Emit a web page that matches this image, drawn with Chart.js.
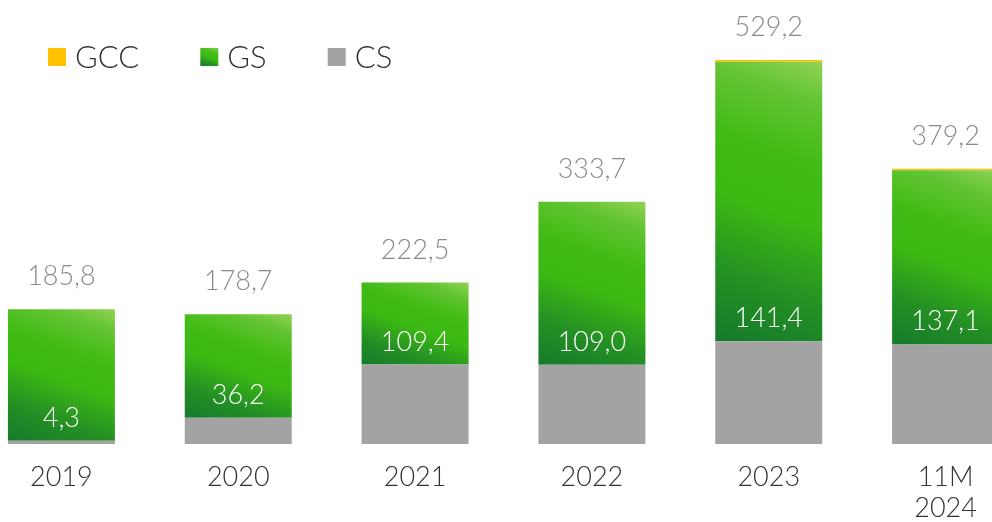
<!DOCTYPE html>
<html>
<head>
<meta charset="utf-8">
<script src="https://cdn.jsdelivr.net/npm/chart.js@4/dist/chart.umd.min.js"></script>
<style>
  html, body { margin: 0; padding: 0; background: #fff; overflow: hidden; width: 992px; height: 522px; }
  #wrap { position: absolute; left: -27px; top: 0; width: 1061px; height: 542px; }
</style>
</head>
<body>
<div id="wrap"><canvas id="chart"></canvas></div>
<script>
// Categories and values (bn)
const categories = ['2019', '2020', '2021', '2022', '2023', ['11M', '2024']];
const totals    = [185.8, 178.7, 222.5, 333.7, 529.2, 379.2];
const csValues  = [4.3, 36.2, 109.4, 109.0, 141.4, 137.1];
const gsValues  = [181.5, 142.5, 113.1, 224.7, 385.6, 240.1];
const gccValues = [0, 0, 0, 0, 2.2, 2.0];
const legendNames = ['GCC', 'GS', 'CS'];

const FONT = 'Lato';
const GREY = '#a3a3a3';
const ORANGE = '#ffc000';
const X_SHIFT = 27; // canvas is offset left by this much
const TILT = 20 * Math.PI / 180; // gradient direction, measured from vertical

const fmt = v => v.toFixed(1).replace('.', ',');

// Tilted vertical gradient: dark at bottom-left, light at top-right corner
function greenGradient(ctx, left, top, right, bottom) {
  const dx = Math.sin(TILT), dy = -Math.cos(TILT);
  const len = (right - left) * dx + (top - bottom) * dy;
  const g = ctx.createLinearGradient(left, bottom, left + dx * len, bottom + dy * len);
  g.addColorStop(0, '#157a2b');
  g.addColorStop(0.22, '#238f24');
  g.addColorStop(0.47, '#3cb913');
  g.addColorStop(0.66, '#41bb15');
  g.addColorStop(0.86, '#62c432');
  g.addColorStop(1, '#92d256');
  return g;
}

function gsFill(context) {
  const chart = context.chart;
  const { ctx, chartArea, scales } = chart;
  if (!chartArea || !scales.x || !scales.y) return '#3cb913';
  const i = context.dataIndex;
  const xs = scales.x;
  const half = (xs.width / categories.length) * 0.605 / 2;
  const cx = xs.getPixelForValue(i);
  const bottom = scales.y.getPixelForValue(csValues[i]);
  const top = scales.y.getPixelForValue(csValues[i] + gsValues[i]);
  return greenGradient(ctx, cx - half, top, cx + half, bottom);
}

const labelPlugin = {
  id: 'valueLabels',
  afterDatasetsDraw(chart) {
    const { ctx, scales } = chart;
    ctx.save();
    ctx.textAlign = 'center';
    ctx.textBaseline = 'alphabetic';
    categories.forEach((_, i) => {
      const cx = scales.x.getPixelForValue(i);
      // total above the stack
      const topY = scales.y.getPixelForValue(totals[i]);
      ctx.font = `300 27px ${FONT}`;
      ctx.fillStyle = '#8a8a8a';
      ctx.fillText(fmt(totals[i]), cx, topY - 24);
      // CS value just above the grey segment
      const csY = scales.y.getPixelForValue(csValues[i]);
      ctx.fillStyle = '#ffffff';
      ctx.fillText(fmt(csValues[i]), cx, csY - 14);
    });
    ctx.restore();
  }
};

const legendPlugin = {
  id: 'topLegend',
  afterDraw(chart) {
    const { ctx } = chart;
    ctx.save();
    ctx.font = `300 31px ${FONT}`;
    ctx.textBaseline = 'middle';
    ctx.textAlign = 'left';
    let x = 48 + X_SHIFT;
    const y = 48, box = 18;
    legendNames.forEach(name => {
      if (name === 'GCC') ctx.fillStyle = ORANGE;
      else if (name === 'CS') ctx.fillStyle = GREY;
      else ctx.fillStyle = greenGradient(ctx, x, y, x + box, y + box);
      ctx.fillRect(x, y, box, box);
      ctx.fillStyle = '#333333';
      ctx.fillText(name, x + box + 9, y + box / 2 + 1);
      x += box + 9 + ctx.measureText(name).width + 61;
    });
    ctx.restore();
  }
};

function build() {
  new Chart(document.getElementById('chart'), {
    type: 'bar',
    data: {
      labels: categories,
      datasets: [
        { label: 'CS', data: csValues, backgroundColor: GREY },
        { label: 'GS', data: gsValues, backgroundColor: gsFill },
        { label: 'GCC', data: gccValues, backgroundColor: ORANGE }
      ]
    },
    options: {
      responsive: true,
      maintainAspectRatio: false,
      animation: false,
      layout: { padding: 0 },
      datasets: {
        bar: { categoryPercentage: 1, barPercentage: 0.605, borderWidth: 0 }
      },
      plugins: { legend: { display: false }, tooltip: { enabled: false } },
      scales: {
        x: {
          stacked: true,
          grid: { display: false, drawTicks: false },
          border: { display: false },
          ticks: {
            color: '#333333',
            padding: 18,
            maxRotation: 0,
            font: { family: FONT, size: 27, weight: '300', lineHeight: 1.15 }
          }
        },
        y: { stacked: true, display: false, min: 0, max: 612 }
      }
    },
    plugins: [labelPlugin, legendPlugin]
  });
}

if (document.fonts && document.fonts.load) {
  document.fonts.load(`300 27px ${FONT}`).then(build, build);
} else {
  build();
}
</script>
</body>
</html>
